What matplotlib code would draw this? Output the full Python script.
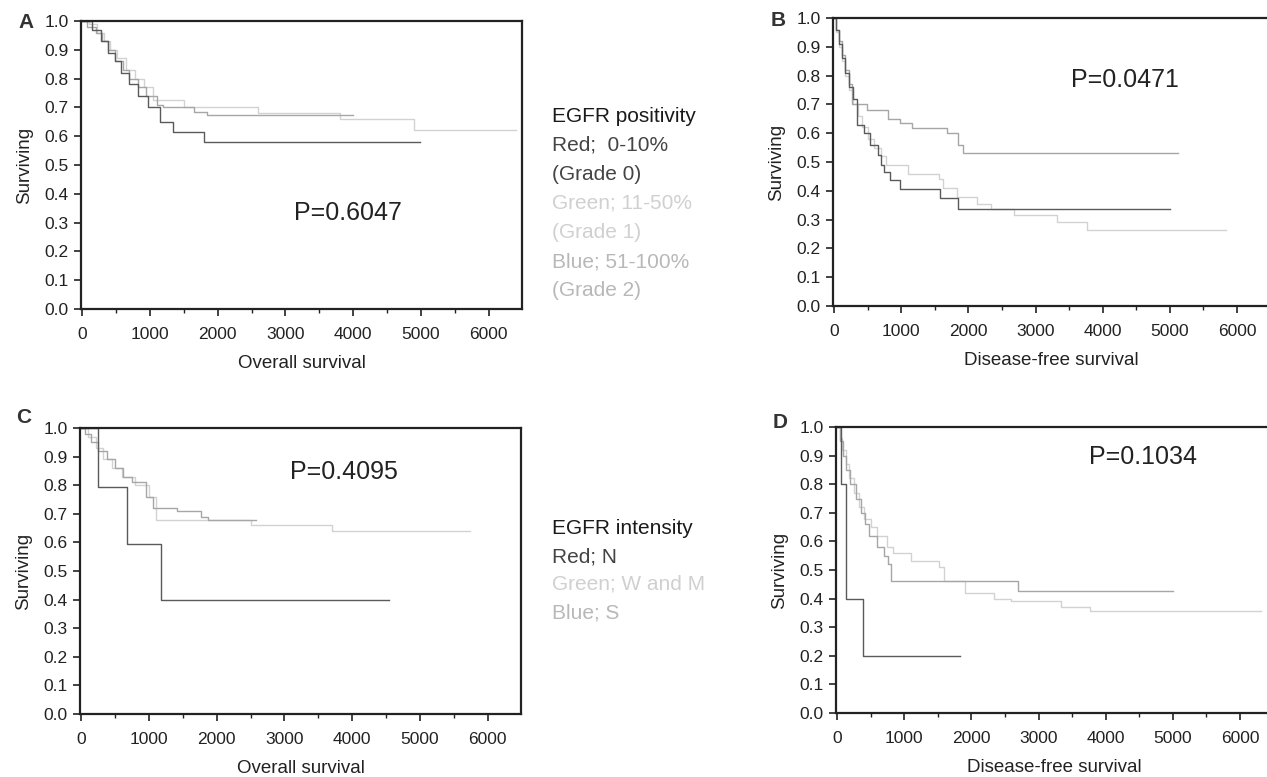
import matplotlib
matplotlib.use("Agg")
import matplotlib.pyplot as plt

plt.rcParams['font.family'] = ['Liberation Sans', 'DejaVu Sans']

# ---------------- data ----------------
# Panel A: EGFR positivity, overall survival
A_red_t = [0, 150, 280, 380, 480, 580, 700, 820, 980, 1150, 1340, 1800, 4985]
A_red_s = [1.0, 0.97, 0.93, 0.89, 0.86, 0.82, 0.78, 0.74, 0.70, 0.65, 0.615, 0.58, 0.58]
A_blue_t = [0, 80, 200, 300, 380, 480, 600, 700, 820, 950, 1100, 1200, 1650, 1850, 4000]
A_blue_s = [1.0, 0.98, 0.96, 0.93, 0.90, 0.86, 0.83, 0.80, 0.77, 0.74, 0.71, 0.70, 0.685, 0.673, 0.673]
A_green_t = [0, 100, 220, 320, 420, 520, 650, 780, 920, 1050, 1500, 2600, 3800, 4900, 6400]
A_green_s = [1.0, 0.99, 0.96, 0.93, 0.90, 0.87, 0.83, 0.80, 0.77, 0.725, 0.70, 0.68, 0.66, 0.62, 0.62]

# Panel B: EGFR positivity, disease-free survival
B_red_t = [0, 30, 70, 120, 170, 220, 280, 340, 450, 540, 650, 700, 750, 830, 980, 1580, 1850, 5000]
B_red_s = [1.0, 0.96, 0.91, 0.86, 0.81, 0.76, 0.72, 0.63, 0.60, 0.56, 0.525, 0.49, 0.466, 0.4375, 0.406, 0.375, 0.337, 0.337]
B_blue_t = [0, 30, 70, 120, 170, 220, 270, 490, 800, 980, 1160, 1680, 1850, 1920, 5120]
B_blue_s = [1.0, 0.96, 0.92, 0.87, 0.82, 0.77, 0.70, 0.68, 0.65, 0.635, 0.618, 0.60, 0.56, 0.53, 0.53]
B_green_t = [0, 30, 70, 120, 170, 230, 290, 350, 420, 500, 600, 700, 780, 1100, 1560, 1620, 1830, 2130, 2330, 2680, 3320, 3760, 5840]
B_green_s = [1.0, 0.95, 0.90, 0.85, 0.80, 0.75, 0.70, 0.66, 0.62, 0.58, 0.55, 0.52, 0.49, 0.46, 0.44, 0.41, 0.38, 0.355, 0.337, 0.316, 0.293, 0.264, 0.264]

# Panel C: EGFR intensity, overall survival
C_red_t = [0, 245, 676, 1175, 4540]
C_red_s = [1.0, 0.795, 0.595, 0.40, 0.40]
C_blue_t = [0, 60, 150, 250, 380, 500, 620, 750, 960, 1060, 1410, 1770, 1870, 2580]
C_blue_s = [1.0, 0.98, 0.95, 0.92, 0.89, 0.86, 0.83, 0.81, 0.76, 0.72, 0.71, 0.69, 0.68, 0.68]
C_green_t = [0, 100, 220, 330, 450, 600, 800, 1000, 1110, 2500, 3700, 5740]
C_green_s = [1.0, 0.97, 0.93, 0.89, 0.86, 0.83, 0.80, 0.76, 0.68, 0.66, 0.64, 0.64]

# Panel D: EGFR intensity, disease-free survival
D_red_t = [0, 55, 138, 380, 1830]
D_red_s = [1.0, 0.8, 0.4, 0.2, 0.2]
D_blue_t = [0, 40, 90, 140, 200, 290, 350, 420, 480, 600, 700, 760, 800, 2690, 5000]
D_blue_s = [1.0, 0.95, 0.90, 0.85, 0.80, 0.75, 0.70, 0.66, 0.62, 0.58, 0.55, 0.52, 0.46, 0.425, 0.425]
D_green_t = [0, 40, 80, 130, 180, 250, 320, 400, 500, 600, 750, 830, 1100, 1520, 1590, 1900, 2340, 2590, 3340, 3760, 6310]
D_green_s = [1.0, 0.96, 0.92, 0.87, 0.82, 0.77, 0.72, 0.68, 0.65, 0.62, 0.58, 0.56, 0.53, 0.51, 0.46, 0.418, 0.40, 0.39, 0.37, 0.355, 0.355]

panel_letters = ["A", "B", "C", "D"]
p_values = ["P=0.6047", "P=0.0471", "P=0.4095", "P=0.1034"]
x_labels = ["Overall survival", "Disease-free survival", "Overall survival", "Disease-free survival"]
y_label = "Surviving"
x_ticks = [0, 1000, 2000, 3000, 4000, 5000, 6000]
y_ticks = [0.0, 0.1, 0.2, 0.3, 0.4, 0.5, 0.6, 0.7, 0.8, 0.9, 1.0]

legend1 = ["EGFR positivity", "Red;  0-10%", "(Grade 0)", "Green; 11-50%", "(Grade 1)", "Blue; 51-100%", "(Grade 2)"]
legend2 = ["EGFR intensity", "Red; N", "Green; W and M", "Blue; S"]

# ---------------- styling ----------------
W, H = 1267, 777
RED_C, BLUE_C, GREEN_C = '#5a5a5a', '#a6a6a6', '#d2d2d2'

fig = plt.figure(figsize=(W / 100, H / 100), dpi=100)

def px_axes(left, top, right, bottom):
    return fig.add_axes([left / W, 1 - bottom / H, (right - left) / W, (bottom - top) / H])

axes_boxes = [(81, 21, 522, 309), (833, 18, 1270, 306), (80, 428, 521, 714), (836, 427, 1273, 713)]
curves = [
    [(A_green_t, A_green_s, GREEN_C), (A_blue_t, A_blue_s, BLUE_C), (A_red_t, A_red_s, RED_C)],
    [(B_green_t, B_green_s, GREEN_C), (B_blue_t, B_blue_s, BLUE_C), (B_red_t, B_red_s, RED_C)],
    [(C_green_t, C_green_s, GREEN_C), (C_blue_t, C_blue_s, BLUE_C), (C_red_t, C_red_s, RED_C)],
    [(D_green_t, D_green_s, GREEN_C), (D_blue_t, D_blue_s, BLUE_C), (D_red_t, D_red_s, RED_C)],
]
p_pos = [(348, 213), (1125, 80), (344, 472), (1143, 457)]
letter_pos = [(26, 22), (778, 20), (24, 418), (780, 423)]

for i, box in enumerate(axes_boxes):
    ax = px_axes(*box)
    for t, s, c in curves[i]:
        ax.step(t, s, where='post', color=c, lw=1.0)
    ax.set_xlim(-15, 6490)
    ax.set_ylim(0, 1.0)
    ax.set_xticks(x_ticks)
    ax.set_xticks([500, 1500, 2500, 3500, 4500, 5500], minor=True)
    ax.set_yticks(y_ticks)
    ax.set_yticklabels([f"{v:.1f}" for v in y_ticks])
    ax.tick_params(axis='both', which='major', direction='out', length=5, width=1.2,
                   labelsize=12.5, colors='#222222')
    ax.tick_params(axis='x', which='major', pad=8)
    ax.tick_params(axis='y', which='major', pad=4)
    ax.tick_params(axis='x', which='minor', direction='out', length=3, width=1.0, colors='#222222')
    for sp in ax.spines.values():
        sp.set_linewidth(1.6)
        sp.set_color('#222222')
    ax.set_xlabel(x_labels[i], fontsize=13.5, color='#222222', labelpad=9)
    ax.set_ylabel(y_label, fontsize=13.5, color='#222222', labelpad=8)
    fig.text(p_pos[i][0] / W, 1 - p_pos[i][1] / H, p_values[i], fontsize=18,
             ha='center', va='center', color='#222222')
    fig.text(letter_pos[i][0] / W, 1 - letter_pos[i][1] / H, panel_letters[i], fontsize=15,
             fontweight='bold', ha='center', va='center', color='#333333')

# legends as text blocks
leg1_colors = ['#1a1a1a', '#444444', '#444444', '#d0d0d0', '#d0d0d0', '#b8b8b8', '#b8b8b8']
leg1_y = [117, 145, 175, 203, 233, 262, 290]
for txt, c, y in zip(legend1, leg1_colors, leg1_y):
    fig.text(552 / W, 1 - y / H, txt, fontsize=15, ha='left', va='center', color=c)

leg2_colors = ['#1a1a1a', '#444444', '#d0d0d0', '#b8b8b8']
leg2_y = [528, 557, 584, 613]
for txt, c, y in zip(legend2, leg2_colors, leg2_y):
    fig.text(552 / W, 1 - y / H, txt, fontsize=15, ha='left', va='center', color=c)

fig.savefig('out.png', dpi=100)
